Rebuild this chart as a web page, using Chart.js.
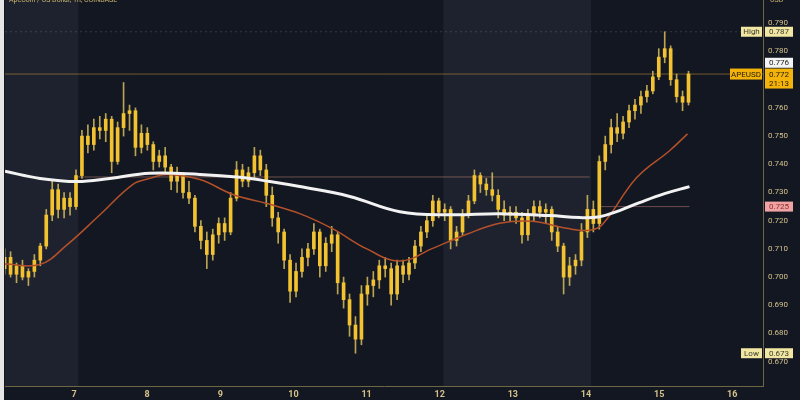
<!DOCTYPE html>
<html>
<head>
<meta charset="utf-8">
<script src="https://cdn.jsdelivr.net/npm/chart.js@4.4.0/dist/chart.umd.min.js"></script>
<style>
  html, body { margin: 0; padding: 0; background: #131722; }
  canvas { display: block; }
</style>
</head>
<body>
<canvas id="apeChart" width="800" height="400"></canvas>
<script>
// APEUSD 2h candles
const opens = [
  .703,.707,.701,.704,.700,.702,.706,.711,.722,.731,
  .724,.728,.725,.736,.750,.747,.753,.752,.756,.741,
  .753,.758,.759,.746,.751,.747,.741,.743,.739,.734,
  .736,.730,.728,.718,.713,.708,.715,.719,.716,.728,
  .738,.734,.737,.743,.738,.729,.721,.716,.706,.695,
  .702,.707,.710,.716,.704,.712,.715,.698,.692,.683,
  .678,.694,.697,.699,.704,.703,.694,.704,.701,.705,
  .711,.716,.720,.727,.723,.724,.713,.716,.722,.727,
  .736,.733,.731,.729,.724,.722,.723,.721,.715,.722,
  .725,.723,.724,.716,.711,.700,.704,.706,.716,.724,
  .719,.741,.747,.753,.751,.755,.759,.761,.764,.766,
  .771,.778,.781,.770,.764,.762
];
const highs = [
  .710,.709,.705,.706,.703,.708,.712,.724,.734,.733,
  .730,.730,.738,.752,.754,.756,.757,.758,.757,.755,
  .769,.761,.760,.754,.753,.748,.745,.746,.740,.739,
  .737,.734,.729,.720,.716,.717,.721,.721,.730,.741,
  .740,.739,.746,.745,.740,.732,.723,.717,.708,.705,
  .710,.712,.719,.717,.714,.718,.716,.700,.694,.686,
  .697,.700,.702,.706,.707,.705,.706,.706,.707,.713,
  .718,.722,.729,.728,.726,.725,.718,.724,.729,.738,
  .737,.735,.737,.731,.727,.725,.725,.723,.724,.727,
  .727,.726,.725,.718,.712,.707,.708,.719,.729,.727,
  .743,.750,.756,.758,.757,.761,.763,.766,.768,.773,
  .781,.787,.782,.772,.766,.773
];
const lows = [
  .701,.700,.698,.699,.697,.700,.704,.710,.720,.721,
  .721,.722,.724,.735,.744,.745,.749,.748,.737,.740,
  .750,.752,.743,.744,.745,.738,.739,.737,.731,.730,
  .728,.726,.716,.710,.703,.706,.712,.713,.715,.727,
  .732,.732,.735,.736,.725,.718,.712,.703,.691,.693,
  .700,.704,.708,.700,.702,.709,.694,.689,.679,.673,
  .676,.690,.693,.696,.700,.690,.692,.698,.699,.703,
  .709,.714,.718,.721,.720,.710,.711,.715,.721,.726,
  .730,.729,.727,.721,.720,.720,.719,.712,.713,.720,
  .721,.719,.713,.709,.694,.697,.701,.704,.714,.716,
  .717,.738,.744,.748,.749,.753,.756,.758,.762,.765,
  .770,.776,.768,.762,.759,.761
];
const closes = [
  .707,.701,.704,.700,.702,.706,.711,.722,.731,.724,
  .728,.725,.736,.750,.747,.753,.752,.756,.741,.753,
  .758,.759,.746,.751,.747,.741,.743,.739,.734,.736,
  .730,.728,.718,.713,.708,.715,.719,.716,.728,.738,
  .734,.737,.743,.738,.729,.721,.716,.706,.695,.702,
  .707,.710,.716,.704,.712,.715,.698,.692,.683,.678,
  .694,.697,.699,.704,.703,.694,.704,.701,.705,.711,
  .716,.720,.727,.723,.724,.713,.716,.722,.727,.736,
  .733,.731,.729,.724,.722,.723,.721,.715,.722,.725,
  .723,.724,.716,.711,.700,.704,.706,.716,.724,.719,
  .741,.747,.753,.751,.755,.759,.761,.764,.766,.771,
  .778,.781,.770,.764,.762,.772
];
const firstCandleDay = 6.052;
const candleStepDays = 0.0813;

// moving averages (day, price)
const slowMaDays = [6.057,6.536,7.041,7.492,8.038,8.721,9.268,9.678,10.087,10.770,11.454,12.137,12.820,13.503,13.913,14.186,14.459,14.732,15.074,15.415];
const slowMa     = [.7375,.7350,.7339,.7350,.7368,.7364,.7354,.7339,.7321,.7286,.7232,.7221,.7225,.7218,.7211,.7214,.7236,.7264,.7296,.7321];
const fastMaDays = [6.057,6.536,6.904,7.355,7.806,8.038,8.270,8.721,9.172,9.637,10.087,10.538,11.003,11.454,11.904,12.369,12.820,13.270,13.735,14.049,14.227,14.691,15.142,15.388];
const fastMa     = [.7046,.7045,.7114,.7221,.7329,.7350,.7364,.7346,.7293,.7261,.7225,.7171,.7100,.7057,.7102,.7152,.7191,.7198,.7173,.7166,.7187,.7352,.7448,.7508];

const dayTicks = [7, 8, 9, 10, 11, 12, 13, 14, 15, 16];
const weekendBands = [[6.0, 7.06], [12.05, 14.07]];
const resistance = { from: 7.05, to: 14.05, value: 0.7355 };
const support = { from: 14.16, to: 15.415, value: 0.725 };
const highValue = 0.787, lowValue = 0.673, lastValue = 0.772, markValue = 0.776;
const countdown = '21:13';

const xMin = 6.057, xMax = 16.42;
const yMin = 0.66138, yMax = 0.79826;

const candleDay = i => firstCandleDay + i * candleStepDays;
const wickData = closes.map((c, i) => ({ x: candleDay(i), y: [lows[i], highs[i]] }));
const bodyData = closes.map((c, i) => ({ x: candleDay(i), y: [opens[i], c] }));
const toPoints = (days, vals) => days.map((d, i) => ({ x: d, y: vals[i] }));

const tan = '#d4c28a';

const backdrop = {
  id: 'backdrop',
  beforeDraw(chart) {
    const { ctx, chartArea, scales: { x } } = chart;
    ctx.save();
    ctx.fillStyle = '#131722';
    ctx.fillRect(0, 0, chart.width, chart.height);
    ctx.fillStyle = '#1e222e';
    weekendBands.forEach(b => {
      const a = Math.max(x.getPixelForValue(b[0]), chartArea.left);
      const e = x.getPixelForValue(b[1]);
      ctx.fillRect(a, 0, e - a, chartArea.bottom);
    });
    ctx.fillStyle = '#e6e6e6';
    ctx.fillRect(0, 0, 4, chart.height);
    ctx.restore();
  },
  afterDraw(chart) {
    const { ctx, chartArea, scales: { y } } = chart;
    ctx.save();
    ctx.font = '7px Roboto';
    ctx.textBaseline = 'middle';
    ctx.fillStyle = '#c9b46a';
    ctx.fillText('ApeCoin / US Dollar, 1h, COINBASE', 9, 0);
    ctx.fillText('USD', 770, 0);

    const right = chartArea.right;
    const tag = (x, yc, w, h, bg, fg, text) => {
      ctx.fillStyle = bg;
      ctx.fillRect(x, yc - h / 2, w, h);
      ctx.fillStyle = fg;
      ctx.textAlign = 'center';
      ctx.fillText(text, x + w / 2, yc + 0.5);
    };
    ctx.font = '8px Roboto';
    let py = y.getPixelForValue(highValue);
    tag(right - 22, py, 21, 10, '#f1e7a3', '#3a3a2a', 'High');
    tag(right + 2, py, 28, 10, '#f1e7a3', '#3a3a2a', highValue.toFixed(3));

    py = y.getPixelForValue(markValue);
    tag(right + 2, py, 28, 10, '#f4f4f4', '#222', markValue.toFixed(3));

    py = y.getPixelForValue(lastValue);
    tag(right - 33, py, 32, 11, '#f3b30b', '#2a2000', 'APEUSD');
    ctx.fillStyle = '#f3b30b';
    ctx.fillRect(right + 2, py - 5.5, 28, 20);
    ctx.fillStyle = '#2a2000';
    ctx.textAlign = 'center';
    ctx.fillText(lastValue.toFixed(3), right + 16, py + 0.5);
    ctx.fillText(countdown, right + 16, py + 9.5);

    py = y.getPixelForValue(support.value);
    tag(right + 2, py, 28, 10, '#f1a3a3', '#8b2c2c', support.value.toFixed(3));

    py = y.getPixelForValue(lowValue);
    tag(right - 22, py, 21, 10, '#f1e7a3', '#3a3a2a', 'Low');
    tag(right + 2, py, 28, 10, '#f1e7a3', '#3a3a2a', lowValue.toFixed(3));
    ctx.restore();
  }
};

new Chart(document.getElementById('apeChart'), {
  type: 'bar',
  data: {
    datasets: [
      { type: 'line', label: 'slow', data: toPoints(slowMaDays, slowMa), borderColor: '#f2f2f2', borderWidth: 3, pointRadius: 0, tension: 0.4, order: 1 },
      { type: 'line', label: 'fast', data: toPoints(fastMaDays, fastMa), borderColor: '#b4502a', borderWidth: 1.5, pointRadius: 0, tension: 0.4, order: 2 },
      { label: 'body', data: bodyData, backgroundColor: '#f2c230', barThickness: 3, minBarLength: 1, grouped: false, order: 3 },
      { label: 'wick', data: wickData, backgroundColor: 'rgba(205,180,90,0.9)', barThickness: 1, grouped: false, order: 4 },
      { type: 'line', label: 'last', data: [{ x: xMin, y: lastValue }, { x: xMax, y: lastValue }], borderColor: 'rgba(230,170,60,0.45)', borderWidth: 1, pointRadius: 0, order: 5 },
      { type: 'line', label: 'high', data: [{ x: xMin, y: highValue }, { x: xMax, y: highValue }], borderColor: 'rgba(160,160,160,0.25)', borderWidth: 1, borderDash: [2, 3], pointRadius: 0, order: 5 },
      { type: 'line', label: 'res', data: [{ x: resistance.from, y: resistance.value }, { x: resistance.to, y: resistance.value }], borderColor: 'rgba(200,140,120,0.5)', borderWidth: 1, pointRadius: 0, order: 5 },
      { type: 'line', label: 'sup', data: [{ x: support.from, y: support.value }, { x: support.to, y: support.value }], borderColor: 'rgba(200,130,120,0.5)', borderWidth: 1, pointRadius: 0, order: 5 }
    ]
  },
  options: {
    responsive: false,
    animation: false,
    devicePixelRatio: 1,
    layout: { padding: { left: 5, right: 0, top: 0, bottom: 0 } },
    plugins: { legend: { display: false }, tooltip: { enabled: false } },
    scales: {
      x: {
        type: 'linear', min: xMin, max: xMax, offset: false,
        grid: { display: false, drawTicks: false },
        border: { display: true, color: '#6e6745' },
        afterBuildTicks: s => { s.ticks = dayTicks.map(v => ({ value: v })); },
        ticks: { color: tan, font: { family: 'Roboto', size: 9, weight: 'bold' }, maxRotation: 0, padding: 3, autoSkip: false, callback: v => String(v) },
        afterFit: s => { s.height = 14; s.paddingLeft = 0; s.paddingRight = 0; }
      },
      y: {
        position: 'right', min: yMin, max: yMax,
        grid: { display: false, drawTicks: false },
        border: { display: true, color: '#6e6745' },
        ticks: { stepSize: 0.01, includeBounds: false, color: tan, font: { family: 'Roboto', size: 8 }, padding: 5, callback: v => v.toFixed(3) },
        afterFit: s => { s.width = 37; s.paddingTop = 0; s.paddingBottom = 0; }
      }
    }
  },
  plugins: [backdrop]
});
</script>
</body>
</html>
